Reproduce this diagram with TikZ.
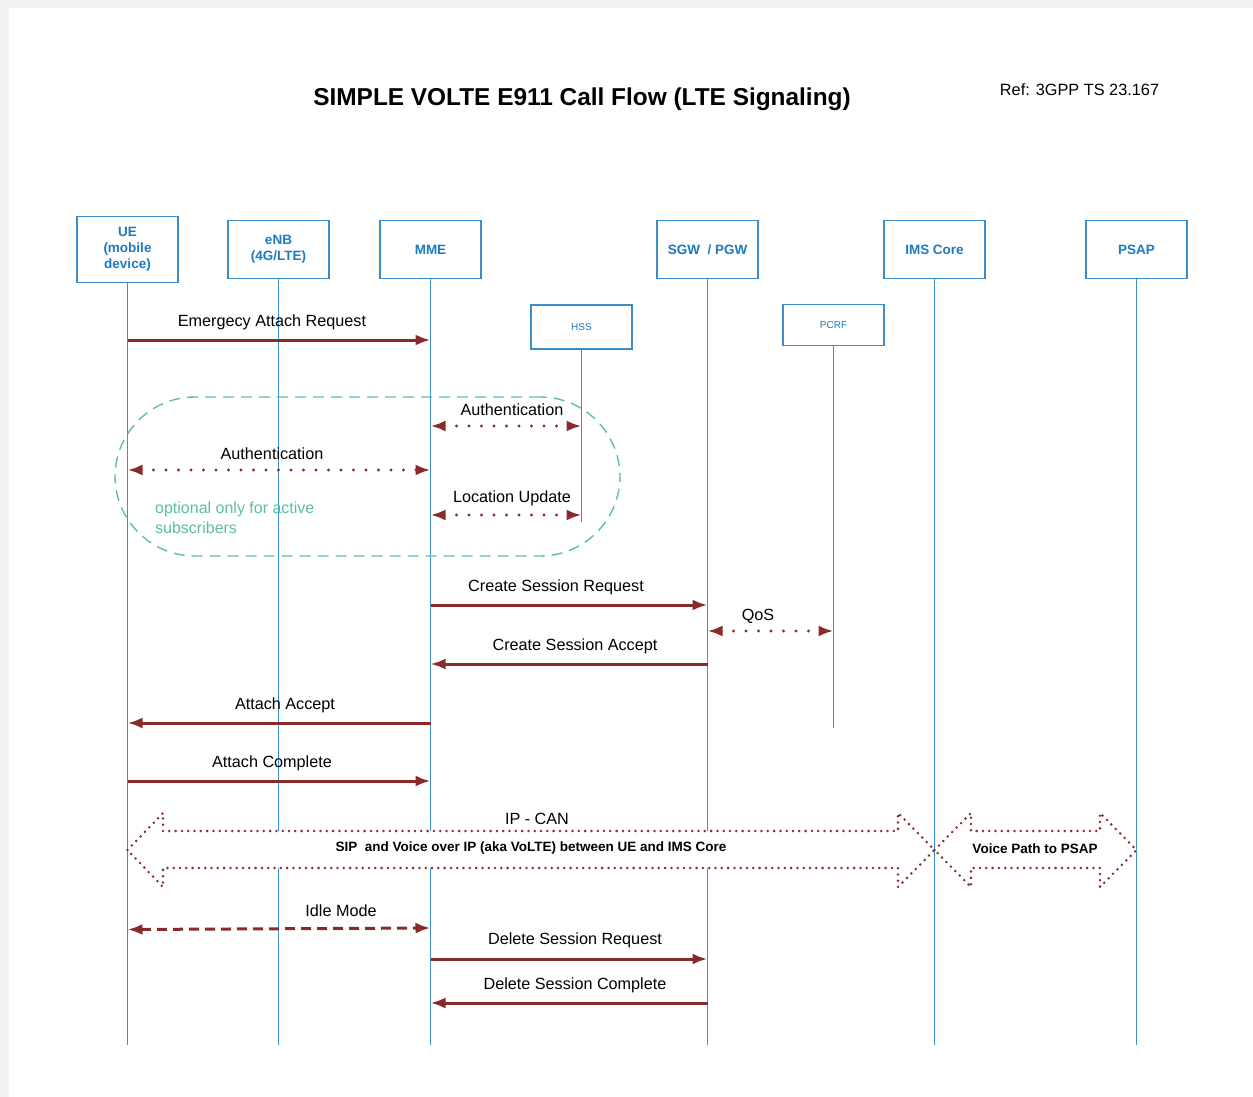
\documentclass[tikz,border=0pt]{standalone}
\usepackage{fontspec}
\setmainfont{Liberation Sans}
\usetikzlibrary{arrows.meta}
\definecolor{boxblue}{HTML}{3A8CC8}
\definecolor{txtblue}{HTML}{1C7BC0}
\definecolor{lineblue}{HTML}{3B90CE}
\definecolor{msgred}{HTML}{8A2B2B}
\definecolor{teal}{HTML}{5CBFA3}
\begin{document}
\begin{tikzpicture}[x=1pt,y=-1pt,
  entity/.style={draw=boxblue,line width=1.4pt,fill=white,minimum width=101pt,minimum height=58pt,
     align=center,text=txtblue,font=\fontsize{13.5}{16}\selectfont\bfseries,inner sep=0pt},
  small/.style={entity,font=\fontsize{10}{12}\selectfont,minimum height=44pt},
  life/.style={draw=lineblue,line width=1.3pt},
  msg/.style={draw=msgred,line width=3pt,-{Latex[length=15pt,width=11pt]}},
  dmsg/.style={draw=msgred,line width=3.4pt,line cap=round,dash pattern=on 0pt off 12.5pt,
     {Latex[length=15pt,width=11pt]}-{Latex[length=15pt,width=11pt]}},
  lbl/.style={font=\fontsize{16.2}{18}\selectfont,inner sep=0pt},
  bigarrow/.style={draw=msgred,fill=white,line width=2.8pt,line cap=round,dash pattern=on 0pt off 6.3pt},
  bold/.style={font=\fontsize{13.5}{15}\selectfont\bfseries,inner sep=0pt}]
\useasboundingbox (0,0) rectangle (1253,1097);
\fill[gray!10] (0,0) rectangle (1253,1097);
\fill[white] (9,8) rectangle (1253,1097);

% title
\node (title) [font=\fontsize{24.4}{28}\selectfont\bfseries,inner sep=0pt] at (582,99) {SIMPLE VOLTE E911 Call Flow (LTE Signaling)};
\node (ref) [font=\fontsize{16.3}{18}\selectfont,inner sep=0pt] at (1079.5,90) {Ref: 3GPP TS 23.167};

% entities
\node (ue) [entity,minimum height=66pt] at (127.5,249.5) {UE\\(mobile\\device)};
\node (enb) [entity] at (278.5,249.5) {eNB\\(4G/LTE)};
\node (mme) [entity] at (430.5,249.5) {MME};
\node (sgw) [entity] at (707.5,249.5) {SGW~~/ PGW};
\node (ims) [entity] at (934.5,249.5) {IMS Core};
\node (psap) [entity] at (1136.5,249.5) {PSAP};
\node (hss) [small] at (581.5,327) {HSS};
\node (pcrf) [small,minimum height=41pt] at (833.5,325) {PCRF};

% lifeline ends
\coordinate (ue-e) at (127.5,1045);
\coordinate (enb-e) at (278.5,1045);
\coordinate (mme-e) at (430.5,1045);
\coordinate (sgw-e) at (707.5,1045);
\coordinate (ims-e) at (934.5,1045);
\coordinate (psap-e) at (1136.5,1045);
\coordinate (hss-e) at (581.5,522);
\coordinate (pcrf-e) at (833.5,728);
\foreach \n in {ue,enb,mme,sgw,ims,psap,hss,pcrf}{\draw[life] (\n.south) -- (\n-e);}

% optional region
\node (opt) [draw=teal,line width=1.4pt,dash pattern=on 11pt off 7pt,rounded corners=80pt,
   minimum width=505pt,minimum height=159pt] at (367.5,476.5) {};
\node (optlbl) [text=teal,font=\fontsize{16}{20}\selectfont,align=left,anchor=west,inner sep=0pt] at (155,518) {optional only for active\\subscribers};

% message end points
\coordinate (a1) at (127.5,340); \coordinate (b1) at (430.5,340);
\coordinate (a2) at (430.5,426); \coordinate (b2) at (581.5,426);
\coordinate (a3) at (127.5,470); \coordinate (b3) at (430.5,470);
\coordinate (a4) at (430.5,515); \coordinate (b4) at (581.5,515);
\coordinate (a5) at (430.5,605); \coordinate (b5) at (707.5,605);
\coordinate (a6) at (707.5,631); \coordinate (b6) at (833.5,631);
\coordinate (a7) at (707.5,664); \coordinate (b7) at (430.5,664);
\coordinate (a8) at (430.5,723); \coordinate (b8) at (127.5,723);
\coordinate (a9) at (127.5,781); \coordinate (b9) at (430.5,781);
\coordinate (a10) at (127.5,929.5); \coordinate (b10) at (430.5,928);
\coordinate (a11) at (430.5,959); \coordinate (b11) at (707.5,959);
\coordinate (a12) at (707.5,1003); \coordinate (b12) at (430.5,1003);

\draw[msg] (a1) -- (b1);
\node (l1) [lbl] at (272,322) {Emergecy Attach Request};
\draw[dmsg] (a2) -- (b2);
\node (l2) [lbl] at (512,410) {Authentication};
\draw[dmsg] (a3) -- (b3);
\node (l3) [lbl] at (272,454) {Authentication};
\draw[dmsg] (a4) -- (b4);
\node (l4) [lbl] at (512,498) {Location Update};
\draw[msg] (a5) -- (b5);
\node (l5) [lbl] at (556,587) {Create Session Request};
\draw[dmsg] (a6) -- (b6);
\node (l6) [lbl] at (758,616) {QoS};
\draw[msg] (a7) -- (b7);
\node (l7) [lbl] at (575,646) {Create Session Accept};
\draw[msg] (a8) -- (b8);
\node (l8) [lbl] at (285,705) {Attach Accept};
\draw[msg] (a9) -- (b9);
\node (l9) [lbl] at (272,763) {Attach Complete};
\draw[draw=msgred,line width=3pt,dash pattern=on 10pt off 6pt,
  {Latex[length=15pt,width=11pt]}-{Latex[length=15pt,width=11pt]}] (a10) -- (b10);
\node (l10) [lbl] at (341,911) {Idle Mode};
\draw[msg] (a11) -- (b11);
\node (l11) [lbl] at (575,940) {Delete Session Request};
\draw[msg] (a12) -- (b12);
\node (l12) [lbl] at (575,985) {Delete Session Complete};

% big double arrows
\draw[bigarrow] (127.5,850) -- (163,813) -- (163,831) -- (898,831) -- (898,813) -- (934.5,850)
  -- (898,887) -- (898,868) -- (163,868) -- (163,887) -- cycle;
\node (ipcan) [lbl] at (537,819) {IP - CAN};
\node (sip) [bold] at (531,848.5) {SIP~ and Voice over IP (aka VoLTE) between UE and IMS Core};
\draw[bigarrow] (934.5,850) -- (971,813) -- (971,831) -- (1100,831) -- (1100,813) -- (1136.5,850)
  -- (1100,887) -- (1100,868) -- (971,868) -- (971,887) -- cycle;
\node (vp) [bold] at (1035,848.5) {Voice Path to PSAP};
\end{tikzpicture}
\end{document}
